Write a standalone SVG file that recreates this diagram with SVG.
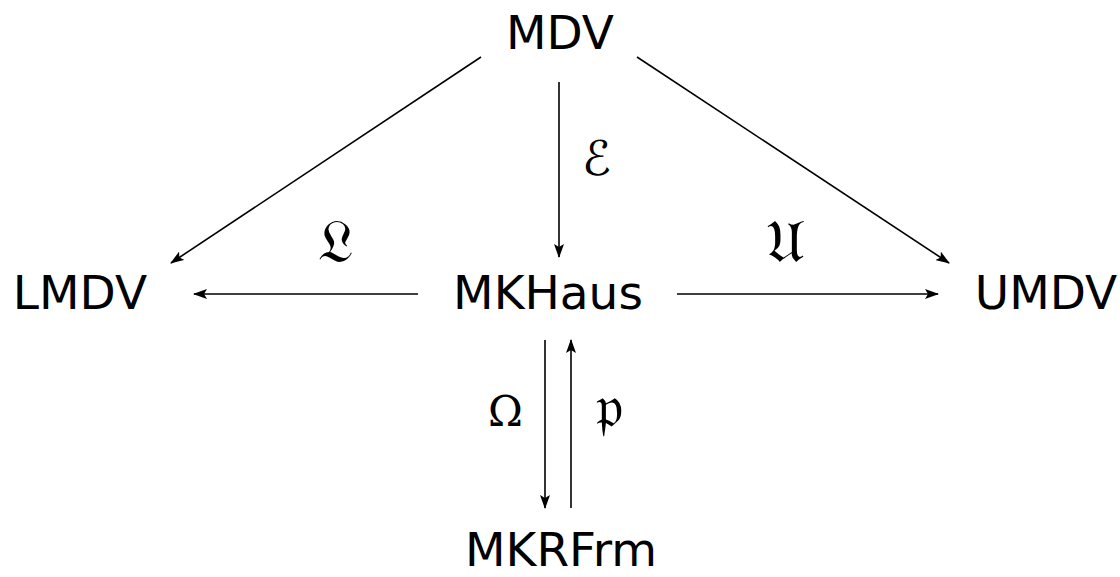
<svg xmlns="http://www.w3.org/2000/svg" width="1120" height="577" viewBox="0 0 1120 577">
  <style>
    .node { font-family: "DejaVu Sans", "Liberation Sans", sans-serif; font-size: 47px; fill: #000; }
    .lbl { font-family: "DejaVu Serif", "DejaVu Sans", "Noto Sans", serif; fill: #000; }
    .frak { font-size: 60px; }
    .edge { stroke: #000; stroke-width: 1.6; fill: none; marker-end: url(#arrow); }
  </style>
  <defs>
    <marker id="arrow" viewBox="0 0 14 10" refX="13" refY="5" markerWidth="14" markerHeight="10" markerUnits="userSpaceOnUse" orient="auto">
      <path d="M0,0 L14,5 L0,10 L3,5 Z" fill="#000"/>
    </marker>
  </defs>
  <rect width="1120" height="577" fill="#fff"/>

  <g id="connectors">
    <line class="edge" x1="481" y1="57" x2="171" y2="263"/>
    <line class="edge" x1="559" y1="82" x2="559" y2="257"/>
    <line class="edge" x1="637" y1="57" x2="949" y2="263"/>
    <line class="edge" x1="418" y1="294" x2="194" y2="294"/>
    <line class="edge" x1="677" y1="294" x2="938" y2="294"/>
    <line class="edge" x1="545" y1="340" x2="545" y2="508"/>
    <line class="edge" x1="571" y1="508" x2="571" y2="340"/>
  </g>

  <g id="edge-labels">
    <text class="lbl" x="582" y="175" font-size="48" font-style="italic">ℰ</text>
    <text class="lbl frak" x="318" y="262">𝔏</text>
    <text class="lbl frak" x="766" y="262">𝔘</text>
    <text class="lbl" x="488" y="426" font-size="42">Ω</text>
    <text class="lbl frak" x="596" y="427">𝔭</text>
  </g>

  <g id="node-MDV"><text class="node" x="560" y="49" text-anchor="middle">MDV</text></g>
  <g id="node-LMDV"><text class="node" x="80" y="309" text-anchor="middle">LMDV</text></g>
  <g id="node-MKHaus"><text class="node" x="548" y="309" text-anchor="middle">MKHaus</text></g>
  <g id="node-UMDV"><text class="node" x="1046" y="309" text-anchor="middle">UMDV</text></g>
  <g id="node-MKRFrm"><text class="node" x="561" y="566" text-anchor="middle">MKRFrm</text></g>
</svg>
